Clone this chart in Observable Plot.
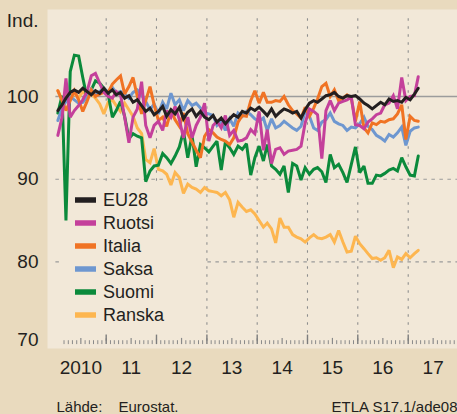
<!DOCTYPE html>
<html>
<head>
<meta charset="utf-8">
<script src="https://cdn.jsdelivr.net/npm/d3@7"></script>
<script src="https://cdn.jsdelivr.net/npm/@observablehq/plot@0.6"></script>
<style>
  html, body { margin: 0; padding: 0; background: #e9dabe; }
  #chart { width: 457px; height: 414px; overflow: hidden; }
</style>
</head>
<body>
<div id="chart"></div>
<script>
// ---- Data (monthly index values, Jan 2010 – Mar 2017) ----
const seriesNames = ["EU28", "Ruotsi", "Italia", "Saksa", "Suomi", "Ranska"];
const seriesColors = ["#231f20", "#c4409b", "#f07324", "#6e97d0", "#0b8a3b", "#fdb650"];

const eu28 = [
  98.3, 99.0, 99.8, 100.5, 100.8, 100.5, 101.0, 100.6, 100.2, 100.7, 100.4, 101.0,
  100.4, 100.8, 100.2, 100.5, 99.8, 100.1, 99.3, 99.6, 98.9, 98.2, 98.6, 97.8,
  98.2, 98.8, 97.6, 98.4, 97.9, 98.7, 97.3, 98.1, 98.5, 97.6, 98.2, 97.5,
  97.2, 97.7, 96.9, 97.4, 96.7, 97.3, 97.8, 97.5, 98.2, 98.0, 98.6, 98.3,
  98.7, 98.2, 97.7, 98.5, 97.6, 98.1, 98.5, 98.3, 98.0, 98.2, 97.4, 98.4,
  99.2, 99.5, 99.3, 99.7, 100.1, 100.2, 100.5, 100.0, 99.8, 100.1, 100.0, 100.1,
  99.7, 99.2, 98.9, 98.5, 98.9, 99.3, 99.0, 99.7, 99.4, 99.5, 99.3, 99.9,
  99.6, 100.3, 101.0
];
const ruotsi = [
  95.3, 97.5, 102.2, 97.5, 98.3, 98.9, 99.6, 100.6, 102.5, 102.8, 101.6, 100.5,
  100.0, 99.8, 100.6, 100.2, 97.5, 94.4, 97.5, 98.5, 101.8, 96.5, 95.0, 96.5,
  97.0, 95.9, 98.3, 97.5, 98.8, 97.2, 95.0, 97.5, 95.0, 96.5, 97.5, 99.2,
  94.6, 96.5, 97.0, 96.2, 97.7, 95.3, 95.9, 94.6, 94.7, 95.0, 96.0, 95.5,
  98.2, 93.5, 96.0, 91.9, 93.6, 93.8, 93.0, 93.4, 93.5, 93.6, 94.0, 96.8,
  98.5, 98.2, 97.8, 92.5, 98.3, 99.5, 98.3, 99.2, 99.4, 99.6, 99.9, 96.6,
  96.5, 96.1, 96.9, 97.3, 97.8, 98.0, 99.0, 99.2, 100.1, 98.5, 102.3, 99.5,
  100.0, 100.1, 102.4
];
const italia = [
  100.7, 99.5, 98.3, 99.5, 100.7, 99.6, 98.2, 99.4, 100.8, 100.0, 100.3, 100.5,
  100.5, 101.5, 102.0, 102.5, 100.3, 101.2, 102.3, 100.0, 97.9, 99.5, 101.2, 99.0,
  97.1, 97.5, 96.4, 98.3, 97.2, 96.4, 98.0, 95.5, 94.5, 93.5, 92.6, 95.2,
  96.0, 95.6, 95.1, 94.8, 94.6, 94.2, 95.0, 96.9, 97.7, 97.6, 99.5, 100.7,
  99.2, 100.5, 99.3, 99.3, 99.5, 99.4, 100.0, 99.0, 98.3, 97.9, 97.4, 98.7,
  97.6, 98.6, 99.7, 101.2, 101.6, 100.0, 100.8, 99.5, 99.8, 100.2, 99.8, 97.0,
  99.4, 96.2, 95.6, 96.8, 96.6, 97.0, 96.9, 97.2, 97.3, 97.9, 99.0, 94.8,
  97.6, 97.1, 97.0
];
const saksa = [
  97.1, 98.6, 99.4, 100.0, 99.6, 99.2, 99.3, 99.9, 100.9, 100.2, 100.6, 101.0,
  100.5, 101.1, 100.4, 100.6, 100.3, 99.8, 100.5, 100.8, 100.2, 99.4, 98.4, 99.1,
  97.9, 99.3, 98.5, 100.4, 99.0, 99.6, 98.3, 99.5, 98.9, 99.2, 98.6, 98.0,
  97.9, 97.7, 96.5, 97.0, 95.9, 97.3, 96.4, 98.0, 97.6, 98.2, 97.8, 97.3,
  97.0, 97.4, 95.9, 97.3, 96.2, 96.5, 97.0, 96.6, 96.2, 95.9, 96.4, 98.2,
  97.6, 96.2, 95.9, 96.9, 97.2, 98.0, 97.0, 96.7, 96.5, 95.9, 96.3, 96.2,
  96.7, 97.5, 96.4, 96.0, 95.3, 95.0, 94.6, 95.4, 95.1, 95.6, 96.3, 94.1,
  95.8, 96.2, 96.3
];
const suomi = [
  98.0, 100.1, 85.0, 103.0, 105.0, 104.9, 102.3, 99.8, 100.8, 101.9, 101.6, 101.0,
  100.3, 97.5, 98.3, 99.4, 97.6, 94.9, 95.5, 95.2, 95.0, 89.7, 91.0, 91.6,
  91.7, 93.1, 92.6, 91.9, 92.8, 93.9, 95.8, 92.6, 95.3, 91.5, 94.2, 93.8,
  93.3, 94.0, 94.6, 91.1, 94.5, 93.8, 93.0, 94.0, 93.6, 94.3, 90.5, 92.6,
  94.0, 92.2, 94.2, 91.6, 91.2, 90.6, 91.6, 88.4, 91.9, 91.6, 89.9, 91.4,
  90.6, 91.2, 91.4, 90.9, 89.6, 93.0, 91.4, 91.8, 90.8, 89.6, 91.8, 93.9,
  90.8, 91.6, 89.5, 89.5, 90.5, 90.4, 90.7, 91.1, 91.3, 91.0, 92.6, 91.5,
  90.5, 90.4, 92.8
];
const ranska = [
  100.7, 99.5, 100.2, 99.7, 100.4, 99.8, 100.6, 100.1, 100.3, 99.8, 99.1, 97.9,
  99.3, 99.6, 98.9, 98.2, 99.2, 98.4, 97.6, 96.2, 95.5, 92.4, 92.0, 93.7,
  91.2, 91.0, 90.6, 89.3, 90.8, 90.2, 88.3, 89.4, 89.0, 88.8, 88.4, 89.0,
  88.6, 88.5, 88.4, 88.0, 88.4, 87.5, 85.4, 87.2, 86.6, 86.1, 86.3, 85.8,
  85.0, 84.2, 84.7, 84.0, 82.3, 85.3, 84.2, 84.2, 83.3, 83.0, 82.8, 82.4,
  82.9, 83.3, 82.9, 82.8, 83.0, 83.3, 82.4, 83.8, 82.4, 81.2, 81.3, 83.1,
  82.2, 81.6, 81.0, 80.4, 80.5, 80.2, 80.5, 81.4, 79.3, 80.6, 80.3, 81.0,
  80.5, 81.0, 81.4
];
const seriesValues = [eu28, ruotsi, italia, saksa, suomi, ranska];

const yTicks = [80, 90, 100];
const yBottomTick = [70];
const yearLabels = ["2010", "11", "12", "13", "14", "15", "16", "17"];
const yTitle = "Ind.";
const sourceLabel = "Lähde:";
const sourceText = "Eurostat.";
const codeText = "ETLA S17.1/ade08";

// ---- Derived tables ----
const firstMonth = new Date(Date.UTC(2010, 0, 1));
const monthStarts = d3.utcMonth.range(firstMonth, new Date(Date.UTC(2018, 0, 1)));
const pointDates = monthStarts.slice(0, eu28.length).map(d => d3.utcDay.offset(d, 14));
const rows = seriesNames.flatMap((name, s) =>
  seriesValues[s].map((v, i) => ({ name, date: pointDates[i], value: v }))
);
const yearStarts = monthStarts.filter(d => d.getUTCMonth() === 0);
const gridYears = yearStarts.slice(1);
const midYears = monthStarts.filter(d => d.getUTCMonth() === 6);
const minorMonths = monthStarts.filter(d => d.getUTCMonth() !== 0 && d.getUTCMonth() !== 6);
const xStart = firstMonth, xEnd = new Date(Date.UTC(2018, 0, 1));

const PANEL = "#f2e8d8";
const TEXT = "#231f20";
const FONT = "'Liberation Sans', Arial, sans-serif";

// Legend background (custom render mark)
function legendBg() {
  const g = d3.create("svg:g");
  g.append("rect").attr("x", 62).attr("y", 183).attr("width", 143).attr("height", 153).attr("fill", PANEL);
  return g.node();
}
function legendItems() {
  const g = d3.create("svg:g").attr("text-anchor", "start");
  seriesNames.forEach((name, i) => {
    const y = 200 + i * 23;
    g.append("line").attr("x1", 75).attr("x2", 96).attr("y1", y).attr("y2", y)
      .attr("stroke", seriesColors[i]).attr("stroke-width", 5.5);
    g.append("text").attr("x", 103).attr("y", y).attr("dy", "0.36em")
      .attr("text-anchor", "start")
      .attr("fill", TEXT).attr("font-size", 18).attr("font-family", FONT).text(name);
  });
  return g.node();
}

const drawOrder = [...seriesNames].reverse();

const chart = Plot.plot({
  width: 457,
  height: 414,
  marginLeft: 47,
  marginRight: 0,
  marginTop: 9,
  marginBottom: 66,
  style: { background: "transparent", fontFamily: FONT, color: TEXT, overflow: "visible" },
  x: { type: "utc", domain: [xStart, xEnd], range: [55.4, 458], axis: null },
  y: { domain: [70, 110], range: [344.1, 13.3], axis: null },
  color: { domain: seriesNames, range: seriesColors },
  marks: [
    Plot.frame({ fill: PANEL, stroke: null }),
    Plot.ruleX(gridYears, { x: d => d, y1: 70.4, y2: 110, stroke: "#8e8e8e", strokeDasharray: "2.5,5.5", strokeWidth: 1.1 }),
    Plot.ruleY([90, 80], { y: d => d, x1: xStart, x2: xEnd, stroke: "#9a9a9a", strokeDasharray: "3.5,4.5", strokeWidth: 1.1 }),
    Plot.ruleY([100], { y: d => d, x1: xStart, x2: xEnd, stroke: "#9c9c9c", strokeWidth: 1.4 }),
    legendBg,
    ...drawOrder.map(name =>
      Plot.line(rows.filter(r => r.name === name), {
        x: "date", y: "value", stroke: seriesColors[seriesNames.indexOf(name)],
        strokeWidth: 3, strokeLinejoin: "miter", strokeMiterlimit: 2.5, curve: "linear"
      })
    ),
    legendItems,
    Plot.ruleX(minorMonths.slice(1), { x: d => d, y1: 70, y2: 70.47, stroke: "#8a8a8a", strokeWidth: 1 }),
    Plot.ruleX(midYears, { x: d => d, y1: 70, y2: 70.75, stroke: "#8a8a8a", strokeWidth: 1.2 }),
    Plot.ruleX(gridYears, { x: d => d, y1: 70, y2: 71.15, stroke: "#7d7d7d", strokeWidth: 1.4 }),
    Plot.text(yTicks, { y: d => d, frameAnchor: "left", dx: -9, textAnchor: "end", fontSize: 19, fill: TEXT, text: d => String(d) }),
    Plot.text(yBottomTick, { y: d => d, frameAnchor: "left", dx: -9, dy: -5, textAnchor: "end", fontSize: 19, fill: TEXT, text: d => String(d) }),
    Plot.text(midYears, { x: d => d, frameAnchor: "bottom", dy: 19, lineAnchor: "middle", fontSize: 19, fill: TEXT, text: (d, i) => yearLabels[i] }),
    Plot.text([yTitle], { frameAnchor: "top-left", dx: -9, dy: 11, textAnchor: "end", lineAnchor: "middle", fontSize: 19, fill: TEXT, text: d => d }),
    Plot.text([sourceLabel], { frameAnchor: "bottom-left", dx: 9, dy: 63, textAnchor: "start", lineAnchor: "bottom", fontSize: 15, fill: TEXT, text: d => d }),
    Plot.text([sourceText], { frameAnchor: "bottom-left", dx: 71, dy: 63, textAnchor: "start", lineAnchor: "bottom", fontSize: 15, fill: TEXT, text: d => d }),
    Plot.text([codeText], { frameAnchor: "bottom-right", dx: 0, dy: 63, textAnchor: "end", lineAnchor: "bottom", fontSize: 15, fill: TEXT, text: d => d })
  ]
});
document.getElementById("chart").appendChild(chart);
</script>
</body>
</html>
